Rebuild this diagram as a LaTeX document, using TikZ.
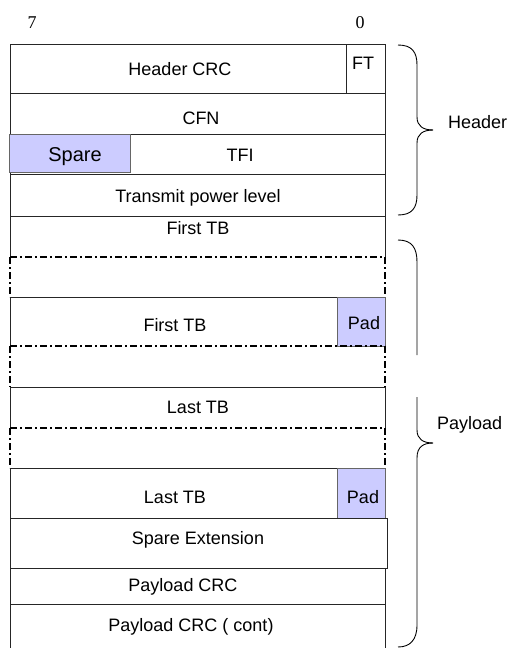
\documentclass[tikz,border=0pt]{standalone}
\usepackage{fontspec}
\setmainfont{Liberation Sans}
\newfontfamily\numfont{Liberation Serif}
\definecolor{lav}{HTML}{CCCCFF}
\begin{document}
\begin{tikzpicture}[x=1pt,y=-1pt,
  frame/.style={draw=black!85, line width=0.9pt},
  dd/.style={draw=black, line width=1.4pt, dash pattern=on 7pt off 3pt on 2pt off 3pt},
  lbl/.style={font=\fontsize{18}{20}\selectfont, inner sep=0pt, anchor=base},
  numlbl/.style={font=\numfont\fontsize{18}{20}\selectfont, inner sep=0pt, anchor=base},
  padbox/.style={fill=lav, draw=black!60, line width=0.8pt},
  bracepath/.style={draw=black, line width=0.9pt}]
\useasboundingbox (0,0) rectangle (507,648);

% bit numbers
\node[numlbl] (b7) at (32,28) {7};
\node[numlbl] (b0) at (360,28) {0};

% header rows
\path[frame] (10,44) rectangle (385,93);
\path[frame] (346,44) -- (346,93);
\path[frame] (10,93) rectangle (385,134);
\path[frame] (10,134) rectangle (385,174);
\path[padbox] (9,134) rectangle (130,172);
\path[frame] (10,174) rectangle (385,216);

% payload rows
\path[frame] (10,257) -- (10,216) -- (385,216) -- (385,257);
\path[dd] (10,257) -- (385,257);
\path[dd] (10,257) -- (10,297);
\path[dd] (385,257) -- (385,297);
\path[frame] (10,346) -- (10,297) -- (385,297) -- (385,346);
\path[padbox] (337,297) rectangle (385,346);
\path[dd] (10,346) -- (385,346);
\path[dd] (10,346) -- (10,387);
\path[dd] (385,346) -- (385,387);
\path[frame] (10,428) -- (10,387) -- (385,387) -- (385,428);
\path[dd] (10,428) -- (385,428);
\path[dd] (10,428) -- (10,468);
\path[dd] (385,428) -- (385,468);
\path[frame] (10,518) -- (10,468) -- (385,468) -- (385,518);
\path[padbox] (337,468) rectangle (385,518);
\path[frame] (10,518) rectangle (387,568);
\path[frame] (10,568) rectangle (385,604);
\path[frame] (10,648) -- (10,604) -- (385,604) -- (385,648);

% labels
\node[lbl] (hcrc) at (180,75.5) {Header CRC};
\node[lbl] (ft) at (363,69.5) {FT};
\node[lbl] (cfn) at (201,124.5) {CFN};
\node[lbl, font=\fontsize{20}{22}\selectfont] (spare) at (75,161) {Spare};
\node[lbl] (tfi) at (240,161.5) {TFI};
\node[lbl] (tpl) at (198,202.5) {Transmit power level};
\node[lbl] (ftb1) at (198,234.5) {First TB};
\node[lbl] (ftb2) at (175,331.5) {First TB};
\node[lbl] (pad1) at (364,329.5) {Pad};
\node[lbl] (ltb1) at (198,413.5) {Last TB};
\node[lbl] (ltb2) at (175,503.5) {Last TB};
\node[lbl] (pad2) at (363,503.5) {Pad};
\node[lbl] (spext) at (198,544.5) {Spare Extension};
\node[lbl] (pcrc) at (183,591.5) {Payload CRC};
\node[lbl] (pcrc2) at (191,631.5) {Payload CRC ( cont)};

% braces
\path[bracepath] (398,45) .. controls (412,45) and (417,52) .. (417,65) -- (417,117)
  .. controls (417,126) and (423,130) .. (433,130);
\path[bracepath] (433,130) .. controls (423,130) and (417,134) .. (417,143) -- (417,195)
  .. controls (417,208) and (412,215) .. (398,215);
\node[lbl, anchor=base west] (hdr) at (448,128.5) {Header};

\path[bracepath] (398,240) .. controls (412,240) and (417,248) .. (417,262) -- (417,355);
\path[bracepath] (417,397) -- (417,430) .. controls (417,439) and (423,443) .. (433,443);
\path[bracepath] (433,443) .. controls (423,443) and (417,447) .. (417,458) -- (417,625)
  .. controls (417,640) and (410,647) .. (398,647);
\node[lbl, anchor=base west] (pl) at (437,429.5) {Payload};
\end{tikzpicture}
\end{document}
